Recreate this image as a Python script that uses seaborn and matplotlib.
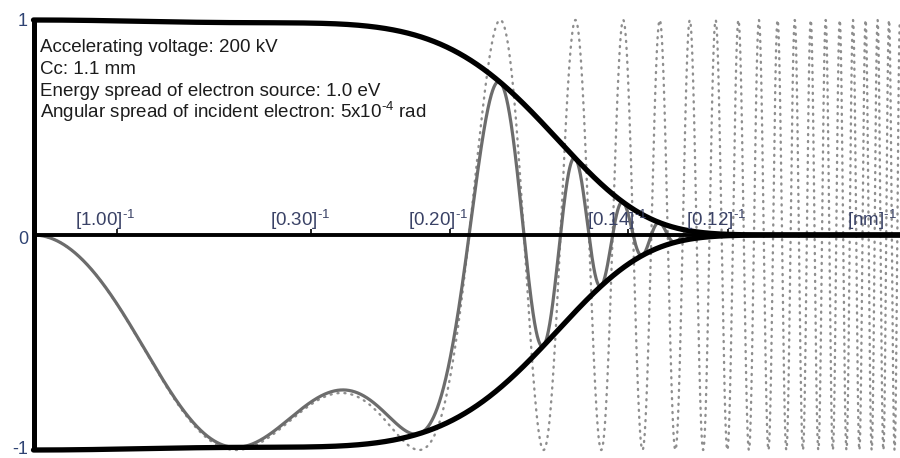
import numpy as np
import pandas as pd
import matplotlib
matplotlib.use("Agg")
import matplotlib.pyplot as plt
import seaborn as sns

# Imaging conditions
accel_voltage_kv = 200.0
cc_mm = 1.1
energy_spread_ev = 1.0
angular_spread_rad = 5e-4
cs_mm = 0.5
defocus_nm = -43.0

# Spatial frequency range (nm^-1) and reference spacings marked on the axis (nm)
k_max = 10.40
tick_spacings_nm = [1.00, 0.30, 0.20, 0.14, 0.12]
unit_label = r"[nm]$^{\text{-1}}$"
y_tick_values = [1, 0, -1]
y_tick_labels = ["1", "0", "-1"]

info_lines = [
    "Accelerating voltage: 200 kV",
    "Cc: 1.1 mm",
    "Energy spread of electron source: 1.0 eV",
    r"Angular spread of incident electron: 5x10$^{\text{-4}}$ rad",
]

# ---- contrast transfer function -------------------------------------------
V = accel_voltage_kv * 1e3
lam = 1.22639 / np.sqrt(V * (1 + 0.97845e-6 * V))          # nm
cs = cs_mm * 1e6                                            # nm
cc = cc_mm * 1e6                                            # nm
rel = (1 + V / 511e3) / (1 + 2 * V / 511e3)
focus_spread = cc * energy_spread_ev / V * rel              # nm

k = np.linspace(0, k_max, 6000)
chi = np.pi * lam * defocus_nm * k**2 + 0.5 * np.pi * cs * lam**3 * k**4
env_t = np.exp(-(np.pi * lam * focus_spread) ** 2 * k**4 / (16 * np.log(2)))
env_s = np.exp(-(np.pi * angular_spread_rad) ** 2 * (cs * lam**2 * k**3 + defocus_nm * k) ** 2)
envelope = env_t * env_s

df = pd.DataFrame({
    "k": k,
    "ctf": np.sin(chi),
    "damped": np.sin(chi) * envelope,
    "env_hi": envelope,
    "env_lo": -envelope,
})

# ---- figure -----------------------------------------------------------------
sns.set_style("white")
plt.rcParams["font.family"] = ["Liberation Sans", "DejaVu Sans"]
plt.rcParams["mathtext.fontset"] = "custom"
plt.rcParams["mathtext.rm"] = "Liberation Sans"
plt.rcParams["mathtext.default"] = "regular"

W, H = 900, 458
x0_px, px_per_k = 33.5, 83.3
fig = plt.figure(figsize=(W / 100, H / 100), dpi=100)
ax = fig.add_axes([x0_px / W, 0, 1 - x0_px / W, 1])
ax.set_xlim(0, (W - x0_px) / px_per_k)
ax.set_ylim(-1 - 8 / 215, 1 + 20 / 215)
ax.set_axis_off()

sns.lineplot(data=df, x="k", y="ctf", ax=ax, color="#8e8e8e", linewidth=1.7,
             linestyle=(0, (0.45, 2.5)), dash_capstyle="round",
             estimator=None, sort=False, zorder=1)
sns.lineplot(data=df, x="k", y="damped", ax=ax, color="#6c6c6c", linewidth=2.3,
             estimator=None, sort=False, zorder=2)
for col in ("env_hi", "env_lo"):
    sns.lineplot(data=df, x="k", y=col, ax=ax, color="black", linewidth=3.8,
                 estimator=None, sort=False, zorder=3, clip_on=False)

# axes drawn as lines
ax.hlines(0, 0, k_max, color="black", linewidth=2.8, zorder=4)
ax.vlines(0, -1, 1, color="black", linewidth=3.6, zorder=4, clip_on=False)

tick_k = [1 / d for d in tick_spacings_nm]
ax.vlines(tick_k, 0, 0.03, color="black", linewidth=1.2, zorder=4)
label_color = "#3a4266"
for kk, d in zip(tick_k, tick_spacings_nm):
    ax.text(kk - 0.50, 0.042, rf"[{d:.2f}]$^{{\text{{-1}}}}$", ha="left",
            va="baseline", fontsize=13.5, color=label_color)
ax.text(9.77, 0.042, unit_label, ha="left", va="baseline",
        fontsize=13.5, color=label_color)

for v, lab, dy in zip(y_tick_values, y_tick_labels, [-0.005, -0.023, 0.004]):
    ax.text(-0.066, v + dy, lab, ha="right", va="center",
            fontsize=13, color="#2f4373", clip_on=False)

for i, line in enumerate(info_lines):
    ax.text(0.078, 0.853 - i * 0.1035, line, ha="left", va="baseline",
            fontsize=13.5, color="#1c1c1c")

fig.savefig("out.png", dpi=100)
